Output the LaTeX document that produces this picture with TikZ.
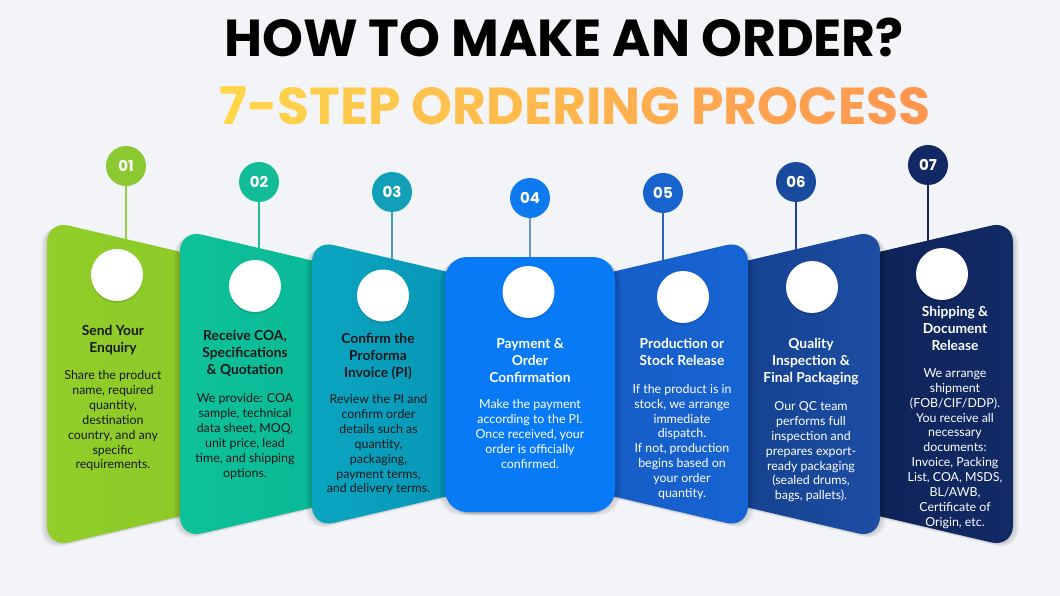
\documentclass[tikz,border=0pt]{standalone}
\usepackage{fontspec}
\setmainfont{Lato}
\newfontfamily\poppins{Poppins}
\usetikzlibrary{shadows}
\definecolor{bg}{RGB}{242,244,247}
\definecolor{tyellow}{RGB}{255,214,74}
\definecolor{torange}{RGB}{255,150,80}
\definecolor{p1a}{RGB}{146,207,42}\definecolor{p1b}{RGB}{140,200,40}
\definecolor{p2a}{RGB}{14,194,152}\definecolor{p2b}{RGB}{10,184,150}
\definecolor{p3a}{RGB}{10,166,192}\definecolor{p3b}{RGB}{8,148,182}
\definecolor{p4a}{RGB}{8,122,246}
\definecolor{p5a}{RGB}{24,92,196}\definecolor{p5b}{RGB}{22,100,212}
\definecolor{p6a}{RGB}{20,64,140}\definecolor{p6b}{RGB}{28,78,164}
\definecolor{p7a}{RGB}{14,34,86}\definecolor{p7b}{RGB}{18,42,102}
\definecolor{n1}{RGB}{140,200,50}
\definecolor{n2}{RGB}{18,188,150}
\definecolor{n3}{RGB}{18,160,184}
\definecolor{n4}{RGB}{14,122,240}
\definecolor{n5}{RGB}{24,100,206}
\definecolor{n6}{RGB}{24,74,158}
\definecolor{n7}{RGB}{18,40,100}
\definecolor{l1}{RGB}{150,205,70}
\definecolor{l2}{RGB}{40,185,155}
\definecolor{l3}{RGB}{70,155,185}
\definecolor{l4}{RGB}{105,150,200}
\definecolor{l5}{RGB}{45,100,185}
\definecolor{l6}{RGB}{30,70,145}
\definecolor{l7}{RGB}{28,40,85}
\definecolor{darktext}{RGB}{22,24,28}
\newcommand\Lpanel[3]{(#1,{384-#2}) -- (#3,{384-(#2-0.235*abs(#3-#1))}) -- (#3,{384+(#2-0.235*abs(#3-#1))}) -- (#1,{384+#2}) -- cycle}
\newcommand\gc[2]{\textcolor{torange!#1!tyellow}{#2}}
\newcommand\softshadow[2]{\foreach \k in {1,...,6}{\fill[black,opacity=0.028,rounded corners=22pt,xshift=#1*\k pt,yshift=-0.6*\k pt] #2;}}
\tikzset{
  numc/.style={circle,minimum size=40pt,inner sep=0pt,text=white,font=\poppins\bfseries\fontsize{15}{15}\selectfont},
  conn/.style={line width=1.8pt},
  wc/.style={circle,fill=white,minimum size=52pt,inner sep=0pt,drop shadow={shadow xshift=0pt,shadow yshift=-2pt,opacity=0.10,fill=black}},
  headL/.style={anchor=north,align=center,inner sep=0pt,text=darktext,font=\bfseries\fontsize{13.8}{17}\selectfont},
  bodyL/.style={anchor=north,align=center,inner sep=0pt,text=darktext,font=\fontsize{12.4}{14.85}\selectfont},
  headR/.style={headL,text=white},
  bodyR/.style={bodyL,text=white},
  panel/.style={rounded corners=22pt},
  ttl/.style={font=\poppins\bfseries\fontsize{52}{52}\selectfont,inner sep=0pt}
}
\begin{document}
\begin{tikzpicture}[x=1pt,y=-1pt]
\fill[bg] (0,0) rectangle (1060,596);
\useasboundingbox (0,0) rectangle (1060,596);
% titles
\node[ttl,text=black] (title) at (564,37.5) {HOW TO MAKE AN ORDER?};
\node[ttl] (subtitle) at (575,106) {\gc{0}{7}\gc{5}{-}\gc{9}{S}\gc{14}{T}\gc{18}{E}\gc{23}{P} \gc{32}{O}\gc{36}{R}\gc{41}{D}\gc{45}{E}\gc{50}{R}\gc{55}{I}\gc{59}{N}\gc{64}{G} \gc{73}{P}\gc{77}{R}\gc{82}{O}\gc{86}{C}\gc{91}{E}\gc{95}{S}\gc{100}{S}};
% number circles
\node[numc,fill=n1] (c1) at (126,166) {01};
\node[numc,fill=n2] (c2) at (259,182) {02};
\node[numc,fill=n3] (c3) at (392,192) {03};
\node[numc,fill=n4] (c4) at (530,198) {04};
\node[numc,fill=n5] (c5) at (663,193) {05};
\node[numc,fill=n6] (c6) at (796,182) {06};
\node[numc,fill=n7] (c7) at (928,165) {07};
\coordinate (t1) at (126,246);
\coordinate (t2) at (259,255);
\coordinate (t3) at (392,265);
\coordinate (t4) at (530,262);
\coordinate (t5) at (663,265);
\coordinate (t6) at (796,255);
\coordinate (t7) at (928,246);
\draw[conn,l1] (c1) -- (t1);
\draw[conn,l2] (c2) -- (t2);
\draw[conn,l3] (c3) -- (t3);
\draw[conn,l4] (c4) -- (t4);
\draw[conn,l5] (c5) -- (t5);
\draw[conn,l6] (c6) -- (t6);
\draw[conn,l7] (c7) -- (t7);
% panels
\softshadow{-1}{\Lpanel{47}{163.5}{205}}
\shade[panel,left color=p1a,right color=p1b] \Lpanel{47}{163.5}{205};
\softshadow{-1}{\Lpanel{180}{154.5}{338}}
\shade[panel,left color=p2a,right color=p2b] \Lpanel{180}{154.5}{338};
\softshadow{-1}{\Lpanel{312}{144}{470}}
\shade[panel,left color=p3a,right color=p3b] \Lpanel{312}{144}{470};
\softshadow{1}{\Lpanel{1013}{163.5}{855}}
\shade[panel,left color=p7a,right color=p7b] \Lpanel{1013}{163.5}{855};
\softshadow{1}{\Lpanel{880}{154.5}{722}}
\shade[panel,left color=p6a,right color=p6b] \Lpanel{880}{154.5}{722};
\softshadow{1}{\Lpanel{748}{144}{590}}
\shade[panel,left color=p5a,right color=p5b] \Lpanel{748}{144}{590};
\softshadow{-1}{(445,257) rectangle (615,512)}
\softshadow{1}{(445,257) rectangle (615,512)}
\fill[panel,p4a] (445,257) rectangle (615,512);
% white circles
\node[wc] (w1) at (117,275) {};
\node[wc] (w2) at (255,286) {};
\node[wc] (w3) at (383,295.5) {};
\node[wc] (w4) at (528.5,292) {};
\node[wc] (w5) at (683,297) {};
\node[wc] (w6) at (812,287) {};
\node[wc] (w7) at (942,274) {};
% texts
\node[headL] (h1) at (113,325.5) {Send Your\\Enquiry};
\node[bodyL] (b1) at (113,370.5) {Share the product\\name, required\\quantity,\\destination\\country, and any\\specific\\requirements.};
\node[headL] (h2) at (245,330) {Receive COA,\\Specifications\\\& Quotation};
\node[bodyL] (b2) at (245,393.5) {We provide: COA\\sample, technical\\data sheet, MOQ,\\unit price, lead\\time, and shipping\\options.};
\node[headL] (h3) at (378,333) {Confirm the\\Proforma\\Invoice (PI)};
\node[bodyL] (b3) at (378.5,394.5) {Review the PI and\\confirm order\\details such as\\quantity,\\packaging,\\payment terms,\\and delivery terms.};
\node[headR] (h4) at (530,338) {Payment \&\\Order\\Confirmation};
\node[bodyR] (b4) at (530,399.5) {Make the payment\\according to the PI.\\Once received, your\\order is officially\\confirmed.};
\node[headR] (h5) at (682,338) {Production or\\Stock Release};
\node[bodyR] (b5) at (682,384) {If the product is in\\stock, we arrange\\immediate\\dispatch.\\If not, production\\begins based on\\your order\\quantity.};
\node[headR] (h6) at (811,338.5) {Quality\\Inspection \&\\Final Packaging};
\node[bodyR] (b6) at (811,401.5) {Our QC team\\performs full\\inspection and\\prepares export-\\ready packaging\\(sealed drums,\\bags, pallets).};
\node[headR] (h7) at (955,306.5) {Shipping \&\\Document\\Release};
\node[bodyR] (b7) at (955,368.5) {We arrange\\shipment\\(FOB/CIF/DDP).\\You receive all\\necessary\\documents:\\Invoice, Packing\\List, COA, MSDS,\\BL/AWB,\\Certificate of\\Origin, etc.};
\end{tikzpicture}
\end{document}
